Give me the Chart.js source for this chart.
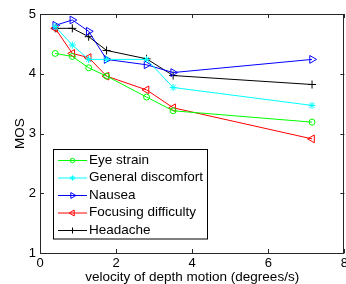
<!DOCTYPE html>
<html>
<head>
<meta charset="utf-8">
<script src="https://cdn.jsdelivr.net/npm/chart.js@4/dist/chart.umd.min.js"></script>
<style>
  html, body { margin: 0; padding: 0; background: #fff; overflow: hidden; }
  #wrap { position: relative; width: 346px; height: 284px; overflow: hidden; }
</style>
</head>
<body>
<div id="wrap"><canvas id="c" width="351" height="284"></canvas></div>
<script>
// ---- data ----
const velocities = [0.4, 0.85, 1.28, 1.75, 2.8, 3.5, 7.15];
const eyeStrain = [4.34, 4.29, 4.10, 3.96, 3.61, 3.38, 3.19];
const generalDiscomfort = [4.79, 4.48, 4.24, 4.24, 4.24, 3.77, 3.47];
const nausea = [4.81, 4.90, 4.71, 4.24, 4.15, 4.02, 4.24];
const focusingDifficulty = [4.76, 4.34, 4.27, 3.96, 3.73, 3.43, 2.91];
const headache = [4.76, 4.76, 4.62, 4.39, 4.25, 3.97, 3.82];
const seriesLabels = ['Eye strain', 'General discomfort', 'Nausea', 'Focusing difficulty', 'Headache'];
const xTicks = [0, 2, 4, 6, 8];
const yTicks = [1, 2, 3, 4, 5];

const FONT = 'Liberation Sans, Arial, Helvetica, sans-serif';
const FS = 13;
const FS_TEXT = 13.5;

function pts(ys) { return velocities.map((x, i) => ({ x: x, y: ys[i] })); }

const styles = [
  { color: '#00ff00', pointStyle: 'circle', radius: 3, rotation: 0 },
  { color: '#00ffff', pointStyle: 'star', radius: 3.5, rotation: 0 },
  { color: '#0000ff', pointStyle: 'triangle', radius: 4.5, rotation: 90 },
  { color: '#ff0000', pointStyle: 'triangle', radius: 4.5, rotation: -90 },
  { color: '#000000', pointStyle: 'cross', radius: 4, rotation: 0 }
];
const seriesData = [eyeStrain, generalDiscomfort, nausea, focusingDifficulty, headache];

const datasets = seriesData.map((d, i) => ({
  label: seriesLabels[i],
  data: pts(d),
  showLine: true,
  borderColor: styles[i].color,
  backgroundColor: 'rgba(0,0,0,0)',
  borderWidth: 1,
  pointStyle: styles[i].pointStyle,
  pointRadius: styles[i].radius,
  pointRotation: styles[i].rotation,
  pointBorderWidth: 1,
  pointBorderColor: styles[i].color,
  pointBackgroundColor: 'rgba(0,0,0,0)',
  tension: 0
}));

const framePlugin = {
  id: 'frame',
  afterDatasetsDraw(chart) {
    const { ctx, chartArea: a, scales } = chart;
    ctx.save();
    ctx.strokeStyle = '#262626';
    ctx.lineWidth = 1;
    ctx.strokeRect(Math.round(a.left) + 0.5, Math.round(a.top) + 0.5,
                   Math.round(a.right - a.left) - 1, Math.round(a.bottom - a.top));
    const tl = 4;
    ctx.beginPath();
    xTicks.forEach(v => {
      const px = Math.round(scales.x.getPixelForValue(v)) + 0.5;
      ctx.moveTo(px, a.bottom); ctx.lineTo(px, a.bottom - tl);
      ctx.moveTo(px, a.top); ctx.lineTo(px, a.top + tl);
    });
    yTicks.forEach(v => {
      const py = Math.round(scales.y.getPixelForValue(v)) + 0.5;
      ctx.moveTo(a.left, py); ctx.lineTo(a.left + tl, py);
      ctx.moveTo(a.right, py); ctx.lineTo(a.right - tl, py);
    });
    ctx.stroke();

    // legend box
    const lx = 53.5, ly = 149.5, lw = 154, lh = 89.5;
    ctx.fillStyle = '#fff';
    ctx.fillRect(lx, ly, lw, lh);
    ctx.strokeStyle = '#000';
    ctx.strokeRect(lx, ly, lw, lh);
    const rowY = [160, 177.5, 195, 212.5, 230];
    chart.data.datasets.forEach((ds, i) => {
      const y = rowY[i];
      ctx.strokeStyle = styles[i].color;
      ctx.lineWidth = 1;
      ctx.beginPath();
      ctx.moveTo(58, y + 0.5); ctx.lineTo(87, y + 0.5);
      ctx.stroke();
      ctx.fillStyle = 'rgba(0,0,0,0)';
      if (Chart.helpers && Chart.helpers.drawPoint) {
        Chart.helpers.drawPoint(ctx, {
          pointStyle: styles[i].pointStyle,
          radius: styles[i].radius * 0.75,
          rotation: styles[i].rotation,
          borderWidth: 1
        }, 72.5, y + 0.5);
      }
      ctx.fillStyle = '#000';
      ctx.font = FS_TEXT + 'px ' + FONT;
      ctx.textBaseline = 'middle';
      ctx.textAlign = 'left';
      ctx.fillText(ds.label, 89, y);
    });
    ctx.restore();
  }
};

new Chart(document.getElementById('c'), {
  type: 'scatter',
  data: { datasets },
  options: {
    responsive: false,
    animation: false,
    devicePixelRatio: 1,
    layout: { padding: { top: 14, right: 0, left: 0, bottom: 0 } },
    plugins: { legend: { display: false }, tooltip: { enabled: false } },
    scales: {
      x: {
        type: 'linear', min: 0, max: 8,
        afterBuildTicks: s => { s.ticks = xTicks.map(v => ({ value: v })); },
        afterFit: s => { s.height = 31; },
        grid: { display: false, drawTicks: false },
        border: { display: false },
        ticks: { color: '#000', padding: 3, maxRotation: 0, font: { family: FONT, size: FS } },
        title: { display: true, text: 'velocity of depth motion (degrees/s)', color: '#000',
                 font: { family: FONT, size: FS_TEXT, lineHeight: 1 }, padding: { top: 0, bottom: -0.5 } }
      },
      y: {
        type: 'linear', min: 1, max: 5,
        afterBuildTicks: s => { s.ticks = yTicks.map(v => ({ value: v })); },
        afterFit: s => { s.width = 40; s.paddingTop = 0; s.paddingBottom = 0; },
        grid: { display: false, drawTicks: false },
        border: { display: false },
        ticks: { color: '#000', padding: 4, font: { family: FONT, size: FS } },
        title: { display: true, text: 'MOS', color: '#000',
                 font: { family: FONT, size: FS_TEXT, lineHeight: 1 }, padding: { top: 13.5, bottom: 0 } }
      }
    }
  },
  plugins: [framePlugin]
});
</script>
</body>
</html>
